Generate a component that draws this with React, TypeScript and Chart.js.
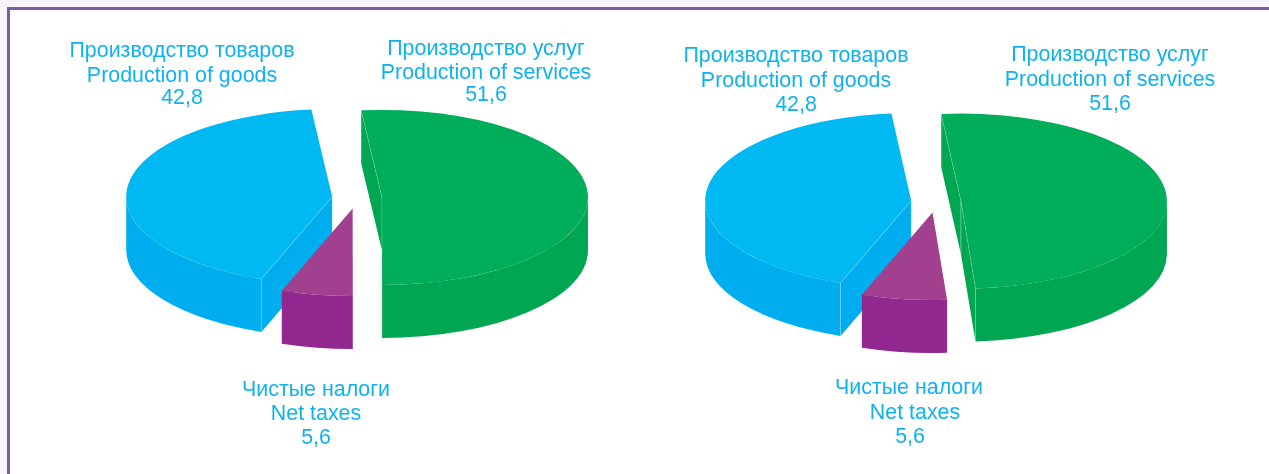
import React, { useEffect, useRef } from "react";
import { Chart, registerables } from "chart.js";

Chart.register(...registerables);

// ---- data ----
const categories = ["Производство услуг", "Чистые налоги", "Производство товаров"];
const categoriesEn = ["Production of services", "Net taxes", "Production of goods"];
const printedValues = ["51,6", "5,6", "42,8"];
// slice sizes as drawn in each pie
const leftValues = [51.6, 5.6, 42.8];
const rightValues = [50.4, 6.7, 42.9];
const topColors = ["#00ad5b", "#a1408f", "#00b9f2"];
const sideColors = ["#00a651", "#92278f", "#00aeef"];

// ---- layout ----
const TEXT_COLOR = "#0fb2ef";
const SQUASH = 0.425;
const DEPTH = 53;
const EXPLODE = 25;
const CANVAS_TOP = -10;
const CANVAS_H = 474;
const RADIUS = 206;

type LabelPos = number[][][]; // slice -> line -> [x, y] in page coordinates
const leftLabelPos: LabelPos = [
  [[486, 49], [486, 73], [486, 95]],
  [[316, 390], [316, 414], [316, 438]],
  [[182, 51], [182, 76], [182, 98]],
];
const rightLabelPos: LabelPos = [
  [[1110, 55], [1110, 80], [1110, 104]],
  [[909, 388], [915, 413], [910, 437]],
  [[796, 56], [796, 81], [796, 105]],
];

const pie3d = {
  id: "pie3d",
  beforeDatasetDraw(chart: any, args: any) {
    const { ctx } = chart;
    const meta = chart.getDatasetMeta(args.index);
    const slices = meta.data.map((arc: any, i: number) => {
      const p = arc.getProps(["x", "y", "startAngle", "endAngle", "outerRadius"], true);
      const mid = (p.startAngle + p.endAngle) / 2;
      return { ...p, i, mid };
    });
    slices.sort((a: any, b: any) => Math.sin(a.mid) - Math.sin(b.mid));
    for (const s of slices) {
      const rx = s.outerRadius;
      const ry = rx * SQUASH;
      const cx = s.x + Math.cos(s.mid) * EXPLODE;
      const cy = s.y + Math.sin(s.mid) * EXPLODE * SQUASH;
      const a0 = s.startAngle;
      const a1 = s.endAngle;
      const rim = (a: number) => [cx + Math.cos(a) * rx, cy + Math.sin(a) * ry];
      const seams: number[][][] = [];
      ctx.save();
      ctx.fillStyle = sideColors[s.i];
      // flat cut walls
      const edges = [
        { a: a0, n: a0 - Math.PI / 2 },
        { a: a1, n: a1 + Math.PI / 2 },
      ];
      for (const e of edges) {
        if (Math.sin(e.n) <= 0.001) continue;
        const [x, y] = rim(e.a);
        ctx.beginPath();
        ctx.moveTo(cx, cy);
        ctx.lineTo(x, y);
        ctx.lineTo(x, y + DEPTH);
        ctx.lineTo(cx, cy + DEPTH);
        ctx.closePath();
        ctx.fill();
        seams.push([[cx, cy], [x, y]], [[cx, cy], [cx, cy + DEPTH]], [[x, y], [x, y + DEPTH]]);
      }
      // curved outer wall: only the front half of the rim
      for (const k of [-2, 0, 2]) {
        const lo = Math.max(a0, k * Math.PI);
        const hi = Math.min(a1, (k + 1) * Math.PI);
        if (hi <= lo) continue;
        ctx.beginPath();
        ctx.ellipse(cx, cy, rx, ry, 0, lo, hi);
        ctx.ellipse(cx, cy + DEPTH, rx, ry, 0, hi, lo, true);
        ctx.closePath();
        ctx.fill();
      }
      // top face
      ctx.fillStyle = topColors[s.i];
      ctx.beginPath();
      ctx.moveTo(cx, cy);
      ctx.ellipse(cx, cy, rx, ry, 0, a0, a1);
      ctx.closePath();
      ctx.fill();
      // thin light seams
      ctx.strokeStyle = "rgba(255,255,255,0.3)";
      ctx.lineWidth = 0.6;
      for (const [p, q] of seams) {
        ctx.beginPath();
        ctx.moveTo(p[0], p[1]);
        ctx.lineTo(q[0], q[1]);
        ctx.stroke();
      }
      ctx.restore();
    }
    return false;
  },
  afterDraw(chart: any, _args: any, opts: any) {
    const { ctx } = chart;
    const rect = { x: opts.left as number, y: CANVAS_TOP };
    ctx.save();
    ctx.fillStyle = TEXT_COLOR;
    ctx.font = '21.4px "Liberation Sans"';
    ctx.textAlign = "center";
    ctx.textBaseline = "middle";
    (opts.positions as LabelPos).forEach((lines, i) => {
      const texts = [categories[i], categoriesEn[i], printedValues[i]];
      lines.forEach(([x, y], j) => ctx.fillText(texts[j], x - rect.x, y - rect.y));
    });
    ctx.restore();
  },
};

function Pie3D(props: {
  values: number[];
  rotation: number;
  left: number;
  width: number;
  centerX: number;
  centerY: number;
  positions: LabelPos;
}) {
  const ref = useRef<HTMLCanvasElement>(null);
  useEffect(() => {
    const cy = props.centerY - CANVAS_TOP;
    const cx = props.centerX - props.left;
    const chart = new Chart(ref.current as HTMLCanvasElement, {
      type: "pie",
      data: {
        labels: categories,
        datasets: [{ data: props.values, backgroundColor: topColors, borderWidth: 0 }],
      },
      options: {
        animation: false,
        responsive: false,
        events: [],
        rotation: props.rotation,
        layout: {
          padding: {
            left: cx - RADIUS,
            right: props.width - cx - RADIUS,
            top: cy - RADIUS,
            bottom: CANVAS_H - cy - RADIUS,
          },
        },
        plugins: {
          legend: { display: false },
          tooltip: { enabled: false },
          pie3d: { positions: props.positions, left: props.left },
        },
      } as any,
      plugins: [pie3d as any],
    });
    return () => chart.destroy();
  }, []);
  return (
    <canvas
      ref={ref}
      width={props.width}
      height={CANVAS_H}
      style={{ position: "absolute", left: props.left, top: CANVAS_TOP }}
    />
  );
}

export default function App() {
  return (
    <div
      style={{
        position: "fixed",
        left: 0,
        top: 0,
        width: 1269,
        height: 474,
        background: "#f6f4fa",
        overflow: "hidden",
      }}
    >
      <div
        style={{
          position: "absolute",
          left: 7,
          top: 7,
          right: 0,
          bottom: 0,
          background: "#fff",
          borderLeft: "3px solid #7b5ea7",
          borderTop: "3px solid #7b5ea7",
        }}
      />
      <Pie3D values={leftValues} rotation={-5.8} left={0} width={640} centerX={357} centerY={198} positions={leftLabelPos} />
      <Pie3D values={rightValues} rotation={-5.5} left={640} width={629} centerX={936} centerY={202} positions={rightLabelPos} />
    </div>
  );
}
